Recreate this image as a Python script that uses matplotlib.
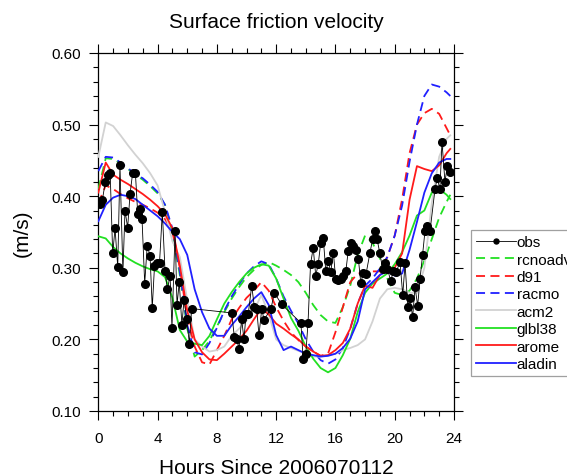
import matplotlib
matplotlib.use("Agg")
import matplotlib.pyplot as plt
from matplotlib.ticker import MultipleLocator, FormatStrFormatter

plt.rcParams['font.family'] = ['Liberation Sans', 'DejaVu Sans']

# ---------------- data ----------------
obs_hours = [0.11, 0.27, 0.47, 0.63, 0.80, 0.97, 1.13, 1.31, 1.46, 1.66, 1.80, 1.98,
             2.14, 2.32, 2.50, 2.66, 2.81, 2.95, 3.13, 3.30, 3.49, 3.64, 3.79, 3.97,
             4.13, 4.32, 4.50, 4.66, 4.84, 4.97, 5.18, 5.31, 5.46, 5.64, 5.78, 5.97,
             6.14, 6.30,
             9.00, 9.18, 9.34, 9.49, 9.67, 9.83, 9.97, 10.12, 10.35, 10.53, 10.69, 10.84,
             11.03, 11.18, 11.65, 11.88, 12.37,
             13.67, 13.82, 14.00, 14.15, 14.32, 14.50, 14.67, 14.84, 15.00, 15.18, 15.35,
             15.52, 15.68, 15.86, 16.02, 16.19, 16.35, 16.53, 16.70, 16.86, 17.03, 17.21,
             17.39, 17.55, 17.71, 17.89, 18.07, 18.33, 18.51, 18.66, 18.81, 18.99, 19.18,
             19.35, 19.50, 19.73, 19.91, 20.09, 20.36, 20.54, 20.70, 20.88, 21.03, 21.21,
             21.37, 21.55, 21.71, 21.88, 22.04, 22.20, 22.38, 22.72, 22.87, 23.05, 23.19,
             23.39, 23.55, 23.70]
obs_vals = [0.389, 0.394, 0.420, 0.429, 0.432, 0.320, 0.355, 0.301, 0.443, 0.294, 0.380, 0.356,
            0.403, 0.433, 0.433, 0.375, 0.382, 0.368, 0.278, 0.331, 0.317, 0.244, 0.302, 0.306,
            0.307, 0.378, 0.296, 0.270, 0.289, 0.216, 0.352, 0.248, 0.280, 0.220, 0.255, 0.229,
            0.194, 0.243,
            0.237, 0.203, 0.201, 0.187, 0.228, 0.200, 0.236, 0.236, 0.275, 0.245, 0.242, 0.206,
            0.243, 0.227, 0.243, 0.265, 0.249,
            0.223, 0.173, 0.180, 0.223, 0.305, 0.328, 0.289, 0.305, 0.334, 0.341, 0.295,
            0.309, 0.294, 0.321, 0.284, 0.283, 0.284, 0.289, 0.295, 0.323, 0.334, 0.330,
            0.325, 0.312, 0.279, 0.293, 0.292, 0.321, 0.340, 0.351, 0.340, 0.321, 0.299,
            0.306, 0.299, 0.282, 0.295, 0.294, 0.308, 0.262, 0.306, 0.245, 0.258, 0.231,
            0.273, 0.247, 0.285, 0.318, 0.351, 0.359, 0.351, 0.410, 0.425, 0.410, 0.476,
            0.420, 0.442, 0.434]

model_hours = [0.0, 0.5, 1.0, 1.5, 2.0, 2.5, 3.0, 3.5, 4.0, 4.5, 5.0, 5.5, 6.0, 6.5,
               7.0, 7.5, 8.0, 8.5, 9.0, 9.5, 10.0, 10.5, 11.0, 11.5, 12.0, 12.5, 13.0,
               13.5, 14.0, 14.5, 15.0, 15.5, 16.0, 16.5, 17.0, 17.5, 18.0, 18.5, 19.0,
               19.5, 20.0, 20.5, 21.0, 21.5, 22.0, 22.5, 23.0, 23.5, 23.75]

rcnoadv = [0.410, 0.453, 0.452, 0.446, 0.438, 0.430, 0.423, 0.414, 0.404, 0.388, 0.350, 0.290,
           0.215, 0.176, 0.185, 0.198, 0.218, 0.238, 0.257, 0.273, 0.287, 0.297, 0.304, 0.308,
           0.303, 0.297, 0.290, 0.280, 0.265, 0.248, 0.234, 0.225, 0.223, 0.245, 0.275, 0.318,
           0.345, 0.335, 0.313, 0.285, 0.265, 0.262, 0.268, 0.285, 0.310, 0.340, 0.370, 0.392,
           0.402]
d91 = [0.390, 0.415, 0.410, 0.403, 0.397, 0.392, 0.388, 0.383, 0.377, 0.368, 0.350, 0.300,
       0.230, 0.190, 0.168, 0.165, 0.185, 0.205, 0.228, 0.244, 0.258, 0.268, 0.280, 0.268,
       0.245, 0.226, 0.210, 0.199, 0.190, 0.183, 0.177, 0.180, 0.210, 0.245, 0.280, 0.292,
       0.293, 0.295, 0.295, 0.315, 0.345, 0.396, 0.460, 0.500, 0.516, 0.522, 0.515, 0.495,
       0.485]
racmo = [0.435, 0.455, 0.454, 0.447, 0.439, 0.431, 0.425, 0.416, 0.406, 0.388, 0.355, 0.295,
         0.220, 0.182, 0.179, 0.195, 0.216, 0.240, 0.260, 0.277, 0.292, 0.302, 0.309, 0.305,
         0.285, 0.260, 0.240, 0.222, 0.200, 0.183, 0.171, 0.166, 0.172, 0.188, 0.215, 0.250,
         0.275, 0.285, 0.299, 0.315, 0.345, 0.387, 0.448, 0.500, 0.540, 0.556, 0.553, 0.545,
         0.540]
acm2 = [0.455, 0.503, 0.498, 0.485, 0.471, 0.458, 0.446, 0.432, 0.415, 0.378, 0.337, 0.315,
        0.255, 0.200, 0.190, 0.183, 0.185, 0.190, 0.205, 0.215, 0.226, 0.240, 0.262, 0.235,
        0.200, 0.192, 0.188, 0.184, 0.180, 0.176, 0.176, 0.178, 0.180, 0.185, 0.188, 0.192,
        0.200, 0.225, 0.257, 0.270, 0.272, 0.270, 0.265, 0.265, 0.300, 0.390, 0.455, 0.480,
        0.485]
glbl38 = [0.344, 0.341, 0.329, 0.320, 0.313, 0.307, 0.302, 0.298, 0.295, 0.287, 0.258, 0.213,
          0.197, 0.194, 0.192, 0.205, 0.228, 0.250, 0.266, 0.280, 0.292, 0.300, 0.305, 0.303,
          0.285, 0.257, 0.230, 0.212, 0.190, 0.173, 0.160, 0.154, 0.160, 0.178, 0.201, 0.238,
          0.265, 0.278, 0.285, 0.292, 0.305, 0.322, 0.345, 0.373, 0.380, 0.405, 0.410, 0.402,
          0.396]
arome = [0.405, 0.447, 0.430, 0.423, 0.417, 0.410, 0.403, 0.395, 0.386, 0.375, 0.355, 0.303,
         0.240, 0.200, 0.182, 0.172, 0.171, 0.180, 0.190, 0.200, 0.212, 0.228, 0.243, 0.235,
         0.222, 0.215, 0.207, 0.200, 0.190, 0.183, 0.177, 0.178, 0.185, 0.195, 0.215, 0.250,
         0.275, 0.272, 0.290, 0.298, 0.300, 0.320, 0.395, 0.442, 0.438, 0.435, 0.443, 0.460,
         0.466]
aladin = [0.365, 0.388, 0.398, 0.402, 0.400, 0.396, 0.388, 0.380, 0.372, 0.362, 0.350, 0.340,
          0.318, 0.270, 0.238, 0.215, 0.205, 0.205, 0.220, 0.232, 0.245, 0.257, 0.266, 0.248,
          0.206, 0.185, 0.190, 0.185, 0.180, 0.178, 0.176, 0.177, 0.180, 0.188, 0.201, 0.225,
          0.270, 0.280, 0.290, 0.295, 0.289, 0.292, 0.325, 0.364, 0.405, 0.432, 0.447, 0.452,
          0.452]

x_ticks = [0, 4, 8, 12, 16, 20, 24]
y_ticks = [0.10, 0.20, 0.30, 0.40, 0.50, 0.60]

title = "Surface friction velocity"
xlabel = "Hours Since 2006070112"
ylabel = "(m/s)"

# ---------------- figure ----------------
fig = plt.figure(figsize=(5.67, 4.77), dpi=100)
ax = fig.add_axes([0.1734, 0.1363, 0.8007 - 0.1734, 0.8868 - 0.1363])

lw = 1.3
dash = (0, (5, 3))
series = [
    ("rcnoadv", rcnoadv, "#22e022", dash),
    ("d91", d91, "#ff1a1a", dash),
    ("racmo", racmo, "#2020ff", dash),
    ("acm2", acm2, "#d2d2d2", "-"),
    ("glbl38", glbl38, "#22e022", "-"),
    ("arome", arome, "#ff1a1a", "-"),
    ("aladin", aladin, "#2020ff", "-"),
]

h_obs, = ax.plot(obs_hours, obs_vals, color="black", lw=0.6, marker="o",
                 markersize=5.5, markerfacecolor="black", markeredgecolor="black",
                 zorder=5, label="obs")
handles = [h_obs]
for name, vals, col, ls in series:
    h, = ax.plot(model_hours, vals, color=col, lw=lw, linestyle=ls, label=name, zorder=3)
    handles.append(h)

ax.set_xlim(0, 24)
ax.set_ylim(0.10, 0.60)
ax.set_xticks(x_ticks)
ax.set_yticks(y_ticks)
ax.yaxis.set_major_formatter(FormatStrFormatter('%.2f'))
ax.xaxis.set_minor_locator(MultipleLocator(1))
ax.yaxis.set_minor_locator(MultipleLocator(0.02))
ax.tick_params(which='both', direction='out', top=True, right=True,
               labeltop=False, labelright=False, width=0.8, color='black')
ax.tick_params(which='major', length=6.5, labelsize=11)
ax.tick_params(axis='x', which='major', pad=8)
ax.tick_params(axis='y', which='major', pad=6)
ax.tick_params(which='minor', length=3.5)
for s in ax.spines.values():
    s.set_linewidth(0.9)

ax.set_title(title, fontsize=15, pad=19)
ax.set_xlabel(xlabel, fontsize=15, labelpad=9)
ax.set_ylabel(ylabel, fontsize=15, labelpad=14)

# legend (frame runs off the right edge, as in the reference)
leg = fig.legend(handles=handles, loc="upper left",
                 bbox_to_anchor=(471 / 567, 1 - 231 / 477),
                 fontsize=11, frameon=True, fancybox=False, edgecolor="#888888",
                 handlelength=2.6, handletextpad=0.05, labelspacing=0.22,
                 borderpad=0.35, borderaxespad=0, markerscale=0.65, numpoints=1)
leg.get_frame().set_linewidth(0.9)

fig.savefig("out.png", dpi=100)
